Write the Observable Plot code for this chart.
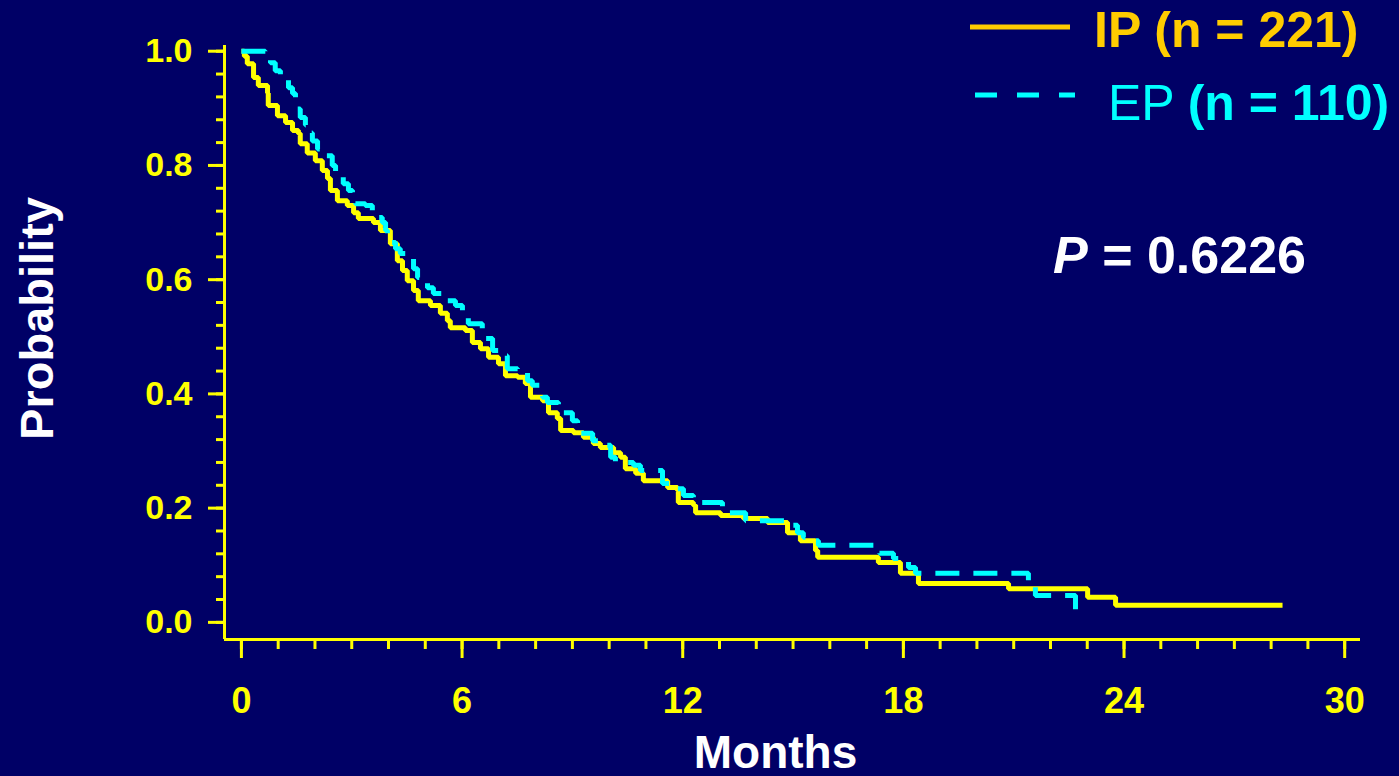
<!DOCTYPE html>
<html><head><meta charset="utf-8">
<script src="https://cdn.jsdelivr.net/npm/d3@7"></script>
<script src="https://cdn.jsdelivr.net/npm/@observablehq/plot@0.6"></script>
<style>
html,body{margin:0;padding:0;background:#000066;}
#chart{width:1399px;height:776px;}
</style></head><body><div id="chart"></div>
<script>
// IP arm (n = 221): Kaplan–Meier step points
const ipMonths = [0, 0.08, 0.16, 0.33, 0.46, 0.71, 0.73, 0.98, 1.20, 1.39, 1.55, 1.60, 1.79, 2.01, 2.20, 2.34, 2.42, 2.61, 2.88, 3.05, 3.18, 3.59, 3.78, 4.05, 4.24, 4.38, 4.51, 4.68, 4.81, 5.14, 5.41, 5.60, 5.68, 6.09, 6.28, 6.50, 6.72, 6.99, 7.18, 7.51, 7.72, 7.86, 8.19, 8.35, 8.59, 8.68, 9.03, 9.30, 9.57, 9.76, 10.12, 10.31, 10.44, 10.72, 10.93, 11.59, 11.86, 11.88, 12.29, 12.35, 13.03, 13.65, 14.31, 14.85, 15.20, 15.61, 15.67, 17.32, 17.92, 18.41, 20.86, 23.01, 23.77, 28.31];
const ipSurv   = [1.000, 0.991, 0.978, 0.954, 0.940, 0.927, 0.905, 0.887, 0.875, 0.861, 0.856, 0.838, 0.822, 0.808, 0.791, 0.777, 0.756, 0.738, 0.730, 0.717, 0.707, 0.700, 0.686, 0.663, 0.633, 0.616, 0.598, 0.581, 0.563, 0.555, 0.541, 0.528, 0.516, 0.511, 0.490, 0.479, 0.464, 0.453, 0.432, 0.429, 0.418, 0.394, 0.388, 0.367, 0.357, 0.336, 0.332, 0.324, 0.313, 0.306, 0.297, 0.289, 0.269, 0.261, 0.248, 0.236, 0.231, 0.210, 0.205, 0.192, 0.187, 0.182, 0.175, 0.157, 0.143, 0.126, 0.114, 0.105, 0.086, 0.068, 0.059, 0.044, 0.030, 0.030];

// EP arm (n = 110)
const epMonths = [0, 0.65, 0.79, 0.92, 1.06, 1.28, 1.39, 1.47, 1.52, 1.60, 1.74, 1.82, 1.93, 2.07, 2.20, 2.47, 2.56, 2.77, 2.91, 3.02, 3.10, 3.37, 3.56, 3.70, 3.83, 3.92, 3.97, 4.05, 4.19, 4.32, 4.46, 4.68, 4.79, 5.06, 5.22, 5.60, 5.82, 6.01, 6.17, 6.55, 6.64, 6.83, 7.10, 7.23, 7.51, 7.78, 7.91, 8.19, 8.32, 8.62, 9.00, 9.14, 9.22, 9.55, 9.76, 10.04, 10.17, 10.66, 10.85, 11.45, 11.86, 12.02, 12.29, 13.08, 13.71, 14.98, 15.12, 15.28, 15.47, 15.69, 17.35, 17.73, 18.14, 18.33, 21.40, 21.59, 22.68];
const epSurv   = [1.000, 0.992, 0.980, 0.966, 0.952, 0.936, 0.926, 0.913, 0.899, 0.884, 0.871, 0.857, 0.843, 0.829, 0.817, 0.800, 0.787, 0.768, 0.756, 0.744, 0.733, 0.730, 0.721, 0.709, 0.700, 0.686, 0.674, 0.665, 0.654, 0.646, 0.637, 0.619, 0.604, 0.586, 0.576, 0.563, 0.555, 0.534, 0.523, 0.511, 0.497, 0.476, 0.467, 0.444, 0.441, 0.423, 0.415, 0.394, 0.385, 0.367, 0.353, 0.345, 0.331, 0.318, 0.310, 0.289, 0.280, 0.275, 0.266, 0.243, 0.234, 0.222, 0.210, 0.192, 0.178, 0.170, 0.157, 0.149, 0.143, 0.135, 0.121, 0.112, 0.096, 0.086, 0.068, 0.047, 0.000];

const xTicks = [0, 6, 12, 18, 24, 30];
const yTicks = [0.0, 0.2, 0.4, 0.6, 0.8, 1.0];
const xMinorTicks = d3.range(0, 31);
const yMinorTicks = d3.range(0, 26).map(i => i * 0.04);
const xTitle = "Months";
const yTitle = "Probability";
const ipName = "IP", ipN = "(n = 221)";
const epName = "EP", epN = "(n = 110)";
const pLabel = "P", pText = " = 0.6226";

const ip = ipMonths.map((m, i) => ({month: m, surv: ipSurv[i]}));
const ep = epMonths.map((m, i) => ({month: m, surv: epSurv[i]}));

const YEL = "#ffff00", GOLD = "#ffcc00", CYAN = "#00ffff", BG = "#000066";
const FONT = "'Liberation Sans', Arial, Helvetica, sans-serif";
const xDomain = [-0.46, 30.43];
const yDomain = [-0.03, 1.01];

const plot = Plot.plot({
  width: 1399, height: 776,
  marginLeft: 224, marginRight: 39, marginTop: 45, marginBottom: 137,
  style: {background: BG, color: YEL, fontFamily: FONT},
  x: {domain: xDomain},
  y: {domain: yDomain},
  marks: [
    Plot.axisY({ticks: yMinorTicks, tickSize: 8, fill: "none", label: null, stroke: YEL, strokeWidth: 3}),
    Plot.axisY({ticks: yTicks, tickSize: 16, tickPadding: 16, tickFormat: d3.format(".1f"), fontSize: 34, fontWeight: "bold", fill: YEL, stroke: YEL, strokeWidth: 3, label: null}),
    Plot.axisX({ticks: xMinorTicks, tickSize: 10, fill: "none", label: null, stroke: YEL, strokeWidth: 3}),
    Plot.axisX({ticks: xTicks, tickSize: 19, tickPadding: 29, tickFormat: d3.format("d"), fontSize: 36, fontWeight: "bold", fill: YEL, stroke: YEL, strokeWidth: 3, label: null}),
    Plot.ruleX([xDomain[0]], {stroke: YEL, strokeWidth: 3}),
    Plot.ruleY([yDomain[0]], {stroke: YEL, strokeWidth: 3}),
    Plot.line(ip, {x: "month", y: "surv", curve: "step-after", stroke: YEL, strokeWidth: 5, strokeLinejoin: "miter", strokeLinecap: "butt"}),
    Plot.line(ep, {x: "month", y: "surv", curve: "step-after", stroke: CYAN, strokeWidth: 5, strokeDasharray: "24,14", strokeLinejoin: "miter", strokeLinecap: "butt"}),
    Plot.text([xTitle], {frameAnchor: "bottom", dx: -17, dy: 128, lineAnchor: "bottom", fontSize: 46, fontWeight: "bold", fill: "white"}),
    Plot.text([yTitle], {frameAnchor: "left", dx: -172, dy: -24, rotate: -90, textAnchor: "middle", lineAnchor: "bottom", fontSize: 47, fontWeight: "bold", fill: "white"})
  ]
});

document.getElementById("chart").appendChild(plot);

// legend and P value annotation
const svg = d3.select(plot);
const g = svg.append("g").attr("font-family", FONT).attr("text-anchor", "start");
g.append("line").attr("x1", 970).attr("x2", 1070).attr("y1", 27).attr("y2", 27)
  .attr("stroke", GOLD).attr("stroke-width", 5);
const t1 = g.append("text").attr("x", 1094).attr("y", 47).attr("fill", GOLD)
  .attr("font-size", 50).attr("font-weight", "bold");
t1.append("tspan").text(ipName + " " + ipN);
g.append("line").attr("x1", 975).attr("x2", 1075).attr("y1", 95).attr("y2", 95)
  .attr("stroke", CYAN).attr("stroke-width", 5).attr("stroke-dasharray", "22,20");
const t2 = g.append("text").attr("x", 1108).attr("y", 120).attr("fill", CYAN).attr("font-size", 50);
t2.append("tspan").attr("font-weight", "normal").text(epName + " ");
t2.append("tspan").attr("font-weight", "bold").text(epN);
const t3 = g.append("text").attr("x", 1053).attr("y", 273).attr("fill", "white")
  .attr("font-size", 52).attr("font-weight", "bold");
t3.append("tspan").attr("font-style", "italic").text(pLabel);
t3.append("tspan").text(pText);
</script>
</body></html>
